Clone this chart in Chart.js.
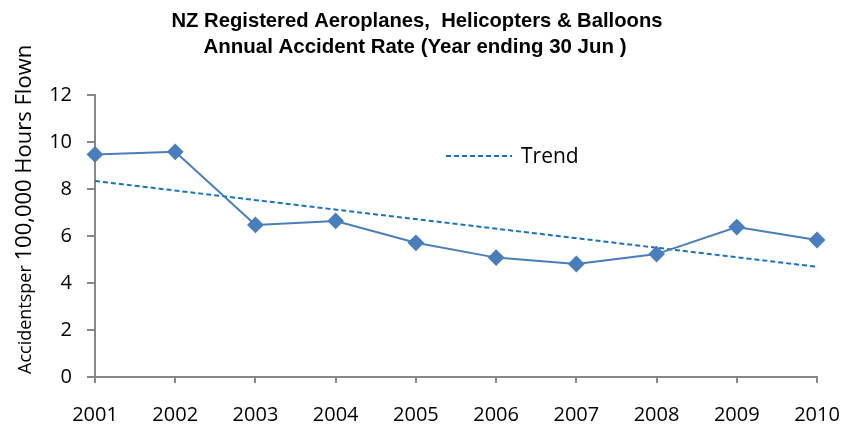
<!DOCTYPE html>
<html>
<head>
<meta charset="utf-8">
<script src="https://cdn.jsdelivr.net/npm/chart.js@4/dist/chart.umd.min.js"></script>
<style>
  html, body { margin: 0; padding: 0; background: #fff; }
  #wrap { position: relative; width: 842px; height: 428px; }
</style>
</head>
<body>
<div id="wrap"><canvas id="c" width="842" height="428"></canvas></div>
<script>
const years = ['2001','2002','2003','2004','2005','2006','2007','2008','2009','2010'];
const accidentRate = [9.47, 9.58, 6.47, 6.64, 5.71, 5.08, 4.81, 5.23, 6.38, 5.83];
const trendRate = [8.34, null, null, null, null, null, null, null, null, 4.69];
const titleLines = ['NZ Registered Aeroplanes,  Helicopters & Balloons', 'Annual Accident Rate (Year ending 30 Jun )'];
const yTitleParts = ['Accidentsper ', '100,000 Hours Flown'];
const legendLabel = 'Trend';

const decor = {
  id: 'decor',
  afterDraw(chart) {
    const ctx = chart.ctx;
    ctx.save();
    ctx.fillStyle = '#000';
    ctx.textAlign = 'center';
    ctx.textBaseline = 'alphabetic';
    const targets = [[491, 417, 27], [423, 415, 53]];
    titleLines.forEach((t, i) => {
      ctx.save();
      ctx.font = 'bold 21px "Liberation Sans Narrow", "Liberation Sans", sans-serif';
      const w = ctx.measureText(t).width;
      const sx = targets[i][0] / w;
      ctx.translate(targets[i][1], targets[i][2]);
      ctx.scale(sx, 1);
      ctx.fillText(t, 0, 0);
      ctx.restore();
    });
    ctx.save();
    ctx.translate(31, 374);
    ctx.rotate(-Math.PI / 2);
    ctx.textAlign = 'left';
    ctx.textBaseline = 'alphabetic';
    ctx.font = '18px "Open Sans", sans-serif';
    ctx.fillText(yTitleParts[0], 0, 0);
    const w0 = ctx.measureText(yTitleParts[0]).width;
    ctx.font = '22px "Open Sans", sans-serif';
    ctx.fillText(yTitleParts[1], w0, 0);
    ctx.restore();
    const ds = chart.data.datasets[1];
    ctx.strokeStyle = ds.borderColor;
    ctx.lineWidth = 2;
    ctx.setLineDash([5, 3]);
    ctx.beginPath();
    ctx.moveTo(446, 156);
    ctx.lineTo(512, 156);
    ctx.stroke();
    ctx.setLineDash([]);
    ctx.fillStyle = '#000';
    ctx.font = '21px "Open Sans", sans-serif';
    ctx.textAlign = 'left';
    ctx.textBaseline = 'middle';
    ctx.fillText(legendLabel, 521, 157);
    ctx.restore();
  }
};

new Chart(document.getElementById('c'), {
  type: 'line',
  data: {
    labels: years,
    datasets: [
      {
        label: 'Accident rate',
        data: accidentRate,
        borderColor: '#4a7ebb',
        backgroundColor: '#4a7ebb',
        borderWidth: 2,
        pointStyle: 'rectRot',
        pointRadius: 7,
        pointHoverRadius: 7,
        pointBackgroundColor: '#4a7ebb',
        pointBorderColor: '#4a7ebb',
        tension: 0
      },
      {
        label: legendLabel,
        data: trendRate,
        spanGaps: true,
        borderColor: '#1a72c4',
        borderWidth: 2,
        borderDash: [5, 3],
        pointRadius: 0,
        tension: 0
      }
    ]
  },
  options: {
    responsive: false,
    animation: false,
    layout: { padding: { top: 95, right: 25, left: 0, bottom: 0 } },
    plugins: { legend: { display: false }, title: { display: false }, tooltip: { enabled: false } },
    scales: {
      x: {
        offset: false,
        grid: { drawOnChartArea: false, drawTicks: true, tickLength: 6, color: '#888', lineWidth: 2 },
        border: { color: '#888', width: 2 },
        ticks: { color: '#000', font: { family: '"Open Sans", sans-serif', size: 20 }, padding: 20, maxRotation: 0, autoSkip: false },
        afterFit(s) { s.height = 51; s.paddingLeft = 0; s.paddingRight = 0; }
      },
      y: {
        min: 0, max: 12,
        grid: { drawOnChartArea: false, drawTicks: true, tickLength: 8, color: '#888', lineWidth: 2 },
        border: { color: '#888', width: 2 },
        ticks: { stepSize: 2, color: '#000', font: { family: '"Open Sans", sans-serif', size: 20 }, padding: 15 },
        afterFit(s) { s.width = 95; s.paddingTop = 0; s.paddingBottom = 0; }
      }
    }
  },
  plugins: [decor]
});
</script>
</body>
</html>
